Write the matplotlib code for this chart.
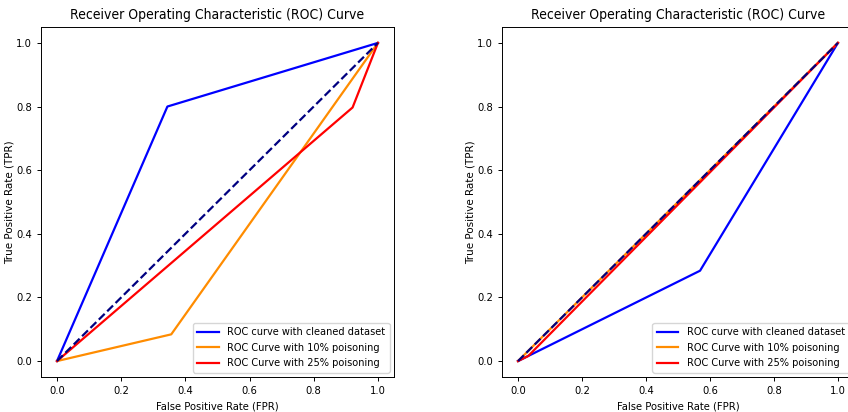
import matplotlib
matplotlib.use("Agg")
import matplotlib.pyplot as plt
from matplotlib import font_manager as fm

# left panel
left_fpr_clean = [0.0, 0.344, 1.0]
left_tpr_clean = [0.0, 0.800, 1.0]
left_fpr_10 = [0.0, 0.356, 1.0]
left_tpr_10 = [0.0, 0.084, 1.0]
left_fpr_25 = [0.0, 0.921, 1.0]
left_tpr_25 = [0.0, 0.797, 1.0]

# right panel
right_fpr_clean = [0.0, 0.032, 0.569, 1.0]
right_tpr_clean = [0.0, 0.016, 0.284, 1.0]
right_fpr_10 = [0.0, 1.0]
right_tpr_10 = [0.0, 1.0]
right_fpr_25 = [0.0, 0.032, 1.0]
right_tpr_25 = [0.0, 0.016, 1.0]

labels = ["ROC curve with cleaned dataset",
          "ROC Curve with 10% poisoning",
          "ROC Curve with 25% poisoning"]
colors = ["blue", "darkorange", "red"]

# look for a narrow face, the reference text looks squeezed sideways
narrow_file = None
for key in ["DejaVuSansCondensed.ttf", "LiberationSansNarrow-Regular.ttf"]:
    for f in fm.fontManager.ttflist:
        if f.fname.endswith(key):
            narrow_file = f.fname
            break
    if narrow_file:
        break

if narrow_file:
    def fp(size):
        return fm.FontProperties(fname=narrow_file, size=size)
    sizes = dict(title=10, label=8, tick=8, legend=7.8)
else:
    def fp(size):
        return fm.FontProperties(family='DejaVu Sans', size=size)
    sizes = dict(title=9.2, label=7.5, tick=7.5, legend=7.2)

fig = plt.figure(figsize=(8.48, 4.12), dpi=100)
ax1 = fig.add_axes([0.0483, 0.085, 0.4163, 0.8495])
ax2 = fig.add_axes([0.592, 0.085, 0.415, 0.8495])

panels = [
    (ax1, [(left_fpr_clean, left_tpr_clean), (left_fpr_10, left_tpr_10), (left_fpr_25, left_tpr_25)]),
    (ax2, [(right_fpr_clean, right_tpr_clean), (right_fpr_10, right_tpr_10), (right_fpr_25, right_tpr_25)]),
]

for ax, curves in panels:
    for (fpr, tpr), c, lab in zip(curves, colors, labels):
        ax.plot(fpr, tpr, color=c, lw=1.6, label=lab)
    ax.plot([0, 1], [0, 1], color='navy', lw=1.6, linestyle='--')
    ax.set_xlim(-0.05, 1.05)
    ax.set_ylim(-0.05, 1.05)
    ax.set_title("Receiver Operating Characteristic (ROC) Curve",
                 fontproperties=fp(sizes['title']))
    ax.set_xlabel("False Positive Rate (FPR)", fontproperties=fp(sizes['label']))
    ax.set_ylabel("True Positive Rate (TPR)", fontsize=7.5, family='DejaVu Sans',
                  labelpad=1)
    ax.tick_params(length=3, width=0.7)
    for lbl in ax.get_xticklabels() + ax.get_yticklabels():
        lbl.set_fontproperties(fp(sizes['tick']))
    for s in ax.spines.values():
        s.set_linewidth(0.7)
    ax.legend(loc="lower right", prop=fp(sizes['legend']), handlelength=2.0,
              borderaxespad=0.4)

fig.savefig("out.png", dpi=100)
